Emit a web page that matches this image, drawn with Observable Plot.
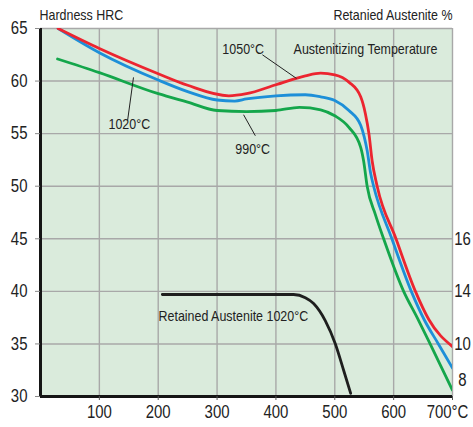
<!DOCTYPE html>
<html><head><meta charset="utf-8">
<script src="https://cdn.jsdelivr.net/npm/d3@7"></script>
<script src="https://cdn.jsdelivr.net/npm/@observablehq/plot@0.6"></script>
<style>body{margin:0;background:#fff}</style>
</head><body><div id="chart"></div>
<script>
// Tempering temperature (°C) and hardness (HRC) per austenitizing temperature
const temp1050 = [30, 100, 200, 250, 320, 350, 400, 450, 476, 500, 524, 544, 552, 558, 563.5, 572, 604, 637, 660, 700];
const hrc1050  = [65.0, 63.1, 60.7, 59.6, 58.6, 58.8, 59.65, 60.5, 60.75, 60.6, 59.9, 58.5, 56.9, 55.0, 52.4, 50.0, 45.0, 40.0, 37.3, 34.75];
const temp1020 = [30, 100, 200, 250, 300, 330, 350, 400, 450, 476, 500, 524, 544, 550, 555, 561, 566, 597, 630, 652, 676, 700];
const hrc1020  = [65.0, 62.7, 60.1, 59.0, 58.2, 58.1, 58.3, 58.6, 58.7, 58.5, 58.15, 57.2, 55.8, 54.7, 53.4, 51.2, 50.0, 45.0, 40.0, 37.3, 35.0, 32.7];
const temp990  = [29, 100, 200, 250, 300, 350, 400, 440, 476, 500, 524, 544, 549, 555, 569, 583, 617, 640, 662, 700];
const hrc990   = [62.1, 60.8, 58.8, 58.0, 57.2, 57.1, 57.2, 57.5, 57.27, 56.7, 55.6, 53.7, 52.4, 50.0, 47.3, 45.0, 40.0, 37.5, 35.0, 30.6];
// Retained austenite 1020°C (plotted on the hardness scale)
const tempRA = [207, 300, 430, 450, 464, 484, 501, 515, 527];
const hrcRA  = [39.7, 39.7, 39.7, 39.4, 38.85, 37.2, 35.0, 32.5, 30.3];

const xTicks = [100, 200, 300, 400, 500, 600, 700];
const yTicks = [30, 35, 40, 45, 50, 55, 60, 65];
const rightLabels = ["16", "14", "10", "8"];
const rightAt     = [45, 40, 35, 31.5];

const series = [
  {name: "990", color: "#14a64b", t: temp990, h: hrc990},
  {name: "1020", color: "#1d8fd8", t: temp1020, h: hrc1020},
  {name: "1050", color: "#ec2530", t: temp1050, h: hrc1050},
  {name: "RA", color: "#1e1e1e", t: tempRA, h: hrcRA}
];
const rows = series.flatMap(s => s.t.map((t, i) => ({series: s.name, t, h: s.h[i]})));

const labels = [
  {text: "1050°C", t: 309, h: 63.0},
  {text: "1020°C", t: 115.5, h: 55.9},
  {text: "990°C", t: 331, h: 53.5},
  {text: "Austenitizing Temperature", t: 430, h: 63.05},
  {text: "Retained Austenite 1020°C", t: 200.5, h: 37.6}
];
const leaders = [
  {t1: 377, h1: 62.5, t2: 435, h2: 60.25},
  {t1: 148, h1: 56.25, t2: 158, h2: 60.35},
  {t1: 365, h1: 54.8, t2: 345, h2: 56.8}
];

const font = "'Liberation Sans', Arial, sans-serif";
const ink = "#222";

const chart = Plot.plot({
  width: 473, height: 427,
  marginLeft: 40, marginRight: 21, marginTop: 28, marginBottom: 31,
  style: {fontFamily: font, color: ink, background: "#fff", overflow: "visible"},
  x: {domain: [0, 700]},
  y: {domain: [30, 65]},
  color: {domain: series.map(s => s.name), range: series.map(s => s.color)},
  marks: [
    Plot.frame({fill: "#daebdc", stroke: null}),
    Plot.gridX(xTicks, {stroke: "#a8a8a8", strokeOpacity: 1, strokeWidth: 1.4}),
    Plot.gridY(yTicks, {stroke: "#a8a8a8", strokeOpacity: 1, strokeWidth: 1.4}),
    Plot.line(rows, {x: "t", y: "h", z: "series", stroke: "series", strokeWidth: 2.8, curve: "monotone-x", clip: true}),
    Plot.link(leaders, {x1: "t1", y1: "h1", x2: "t2", y2: "h2", stroke: ink, strokeWidth: 1}),
    Plot.text(labels, {x: "t", y: "h", text: "text", textAnchor: "start", lineAnchor: "middle", fontSize: 15, fill: ink}),
    Plot.ruleX([0], {stroke: "#151515", strokeWidth: 3}),
    Plot.ruleY([30], {stroke: "#151515", strokeWidth: 3}),
    Plot.axisY({ticks: yTicks, tickSize: 5, tickPadding: 8, fontSize: 18, stroke: "#8a8a8a", label: null}),
    Plot.axisX({ticks: xTicks, tickSize: 4, tickPadding: 5, fontSize: 18, stroke: "#555", label: null,
      tickFormat: d => d === 700 ? "" : String(d)}),
    Plot.text([700], {x: d => d, text: d => `${d}°C`, frameAnchor: "bottom", dy: 9, dx: -5, textAnchor: "middle", lineAnchor: "top", fontSize: 18, fill: ink}),
    Plot.text(rightAt, {y: d => d, text: (d, i) => rightLabels[i], frameAnchor: "right", dx: 10, textAnchor: "middle", lineAnchor: "middle", fontSize: 18, fill: ink}),
    Plot.text(["Hardness HRC"], {frameAnchor: "top-left", text: d => d, dx: -1, dy: -13.5, textAnchor: "start", lineAnchor: "middle", fontSize: 15, fill: ink}),
    Plot.text(["Retanied Austenite %"], {frameAnchor: "top-right", text: d => d, dx: 0, dy: -13, textAnchor: "end", lineAnchor: "middle", fontSize: 15, fill: ink})
  ]
});
document.getElementById("chart").append(chart);
// emulate a condensed face: squeeze each text horizontally
chart.querySelectorAll("text").forEach(el => {
  const L = el.getComputedTextLength();
  if (L > 0) {
    el.setAttribute("textLength", (L * 0.83).toFixed(2));
    el.setAttribute("lengthAdjust", "spacingAndGlyphs");
  }
});
</script>
</body></html>
